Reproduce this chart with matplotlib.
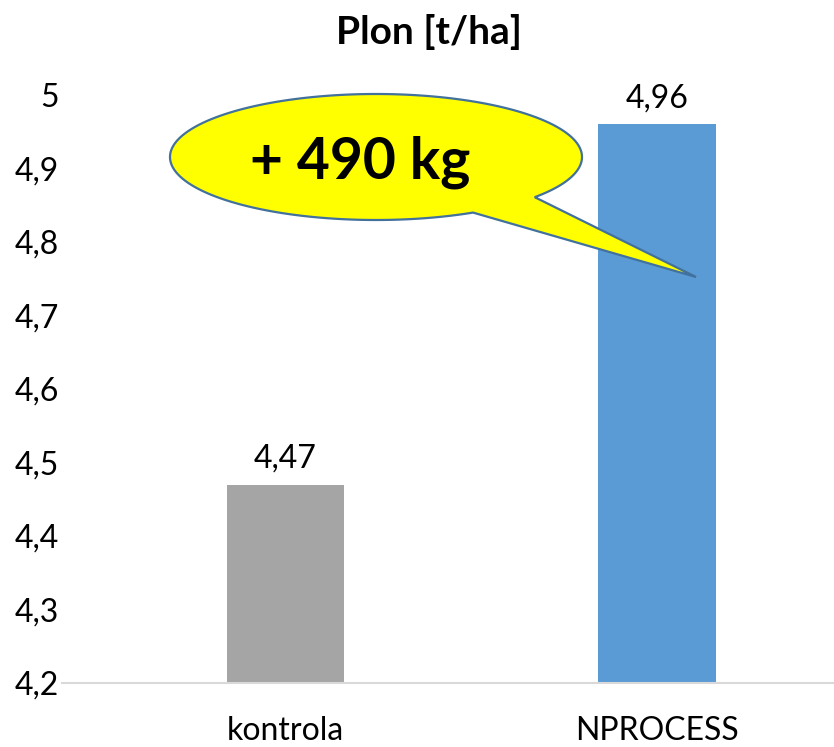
import numpy as np
import matplotlib
matplotlib.use("Agg")
import matplotlib.pyplot as plt
from matplotlib.path import Path
from matplotlib.patches import PathPatch
from matplotlib.ticker import FixedLocator, FuncFormatter

plt.rcParams['font.family'] = ['Lato', 'DejaVu Sans']

categories = ["kontrola", "NPROCESS"]
values = [4.47, 4.96]
bar_colors = ["#a5a5a5", "#5b9bd5"]
yticks = [4.2, 4.3, 4.4, 4.5, 4.6, 4.7, 4.8, 4.9, 5.0]
title = "Plon [t/ha]"
callout_text = "+ 490 kg"

W, H = 834, 747
fig = plt.figure(figsize=(W / 100, H / 100), dpi=100)
ax = fig.add_axes([62 / W, (H - 683) / H, 1 - 62 / W, (683 - 95) / H])

x = np.arange(len(categories))
ax.bar(x, values, width=0.315, color=bar_colors, zorder=2)
ax.set_xlim(-0.6, 1.476)
ax.set_ylim(yticks[0], yticks[-1])

ax.yaxis.set_major_locator(FixedLocator(yticks))
ax.yaxis.set_major_formatter(FuncFormatter(lambda v, p: f"{v:g}".replace('.', ',')))
ax.set_xticks(x)
ax.set_xticklabels(categories)
ax.tick_params(axis='both', length=0, labelsize=23, colors='black')
ax.tick_params(axis='y', pad=2)
ax.tick_params(axis='x', pad=24)

for s in ['top', 'right', 'left']:
    ax.spines[s].set_visible(False)
ax.spines['bottom'].set_color('#d9d9d9')
ax.spines['bottom'].set_linewidth(1.5)

for xi, v in zip(x, values):
    ax.annotate(f"{v:.2f}".replace('.', ','), (xi, v), xytext=(0, 8),
                textcoords='offset points', ha='center', va='bottom', fontsize=23)

fig.text(0.5 + 12 / W, 1 - 32 / H, title, ha='center', va='center',
         fontsize=28, fontweight='bold')

# Callout (speech bubble) in figure pixel space
cx, cy, a, b = 376.0, 157.0, 206.0, 63.0
t1, t2 = np.deg2rad(61.9), np.deg2rad(39.6 + 360)
tt = np.linspace(t1, t2, 300)
px = cx + a * np.cos(tt)
py = cy + b * np.sin(tt)
tip = (696.0, 277.0)
verts = list(zip(px, py)) + [tip, (px[0], py[0])]
verts = [(vx / W, 1 - vy / H) for vx, vy in verts]
codes = [Path.MOVETO] + [Path.LINETO] * (len(verts) - 2) + [Path.CLOSEPOLY]
patch = PathPatch(Path(verts, codes), facecolor='#ffff00', edgecolor='#41719c',
                  linewidth=1.6, transform=fig.transFigure, zorder=5)
fig.patches.append(patch)
fig.text(360 / W, 1 - 162 / H, callout_text, ha='center', va='center',
         fontsize=41, fontweight='bold', zorder=6)

fig.savefig("out.png", dpi=100)
